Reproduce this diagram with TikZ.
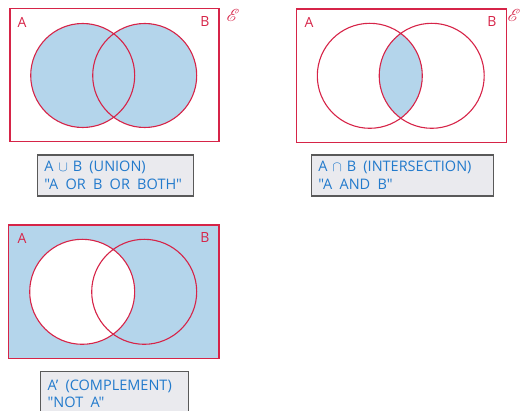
\documentclass[tikz,border=0pt]{standalone}
\usepackage{fontspec}
\setmainfont{Open Sans}[Ligatures=TeXOff]
\usepackage{mathrsfs}
\definecolor{setred}{RGB}{214,36,72}
\definecolor{setblue}{RGB}{180,213,235}
\definecolor{boxgray}{RGB}{234,234,238}
\definecolor{textblue}{RGB}{34,122,204}
\tikzset{
  setline/.style={draw=setred, line width=1.1pt},
  setfill/.style={fill=setblue},
  setname/.style={text=setred, font=\fontsize{14}{16}\selectfont, inner sep=0pt},
  univ/.style={text=setred, font=\fontsize{19}{21}\selectfont, inner sep=0pt},
  labelbox/.style={draw=black!65, line width=1.3pt, fill=boxgray, anchor=north west,
    text=textblue, font=\fontsize{14.5}{17.5}\selectfont, align=left,
    inner xsep=7pt, inner ysep=2pt}
}
\begin{document}
\begin{tikzpicture}[x=1pt,y=-1pt]
\useasboundingbox (0,0) rectangle (522,411);

% A union B
\fill[setfill] (82.7,75.5) circle (52) (144.7,75.5) circle (52);
\draw[setline] (10,8.5) rectangle (219,141.7);
\draw[setline] (82.7,75.5) circle (52) (144.7,75.5) circle (52);
\node[setname] (unionA) at (22,22) {A};
\node[setname] (unionB) at (205,22) {B};
\node[univ] (unionU) at (233,15) {$\mathscr{E}$};
\node[labelbox, minimum width=156, minimum height=41, text width=142] (unionText) at (36.7,154.3)
  {A $\cup$ B\, (UNION)\\"A\, OR\, B\, OR\, BOTH"};

% A intersect B
\begin{scope}
  \clip (369.8,75.8) circle (52.5);
  \fill[setfill] (431.7,75.8) circle (52.5);
\end{scope}
\draw[setline] (296.7,9) rectangle (506.7,142.3);
\draw[setline] (369.8,75.8) circle (52.5) (431.7,75.8) circle (52.5);
\node[setname] (interA) at (309,22) {A};
\node[setname] (interB) at (492,22) {B};
\node[univ] (interU) at (514,15) {$\mathscr{E}$};
\node[labelbox, minimum width=182, minimum height=41, text width=168] (interText) at (310.7,154.3)
  {A $\cap$ B\, (INTERSECTION)\\"A\, AND\, B"};

% complement of A
\fill[setfill] (8.7,225) rectangle (219,358.3);
\fill[white] (82.2,291.8) circle (52.5);
\draw[setline] (8.7,225) rectangle (219,358.3);
\draw[setline] (82.2,291.8) circle (52.5) (144.2,291.8) circle (52.5);
\node[setname] (compA) at (22,238) {A};
\node[setname] (compB) at (205,238) {B};
\node[labelbox, minimum width=148, minimum height=44, text width=134] (compText) at (40,371)
  {A’\, (COMPLEMENT)\\"NOT\, A"};
\end{tikzpicture}
\end{document}
